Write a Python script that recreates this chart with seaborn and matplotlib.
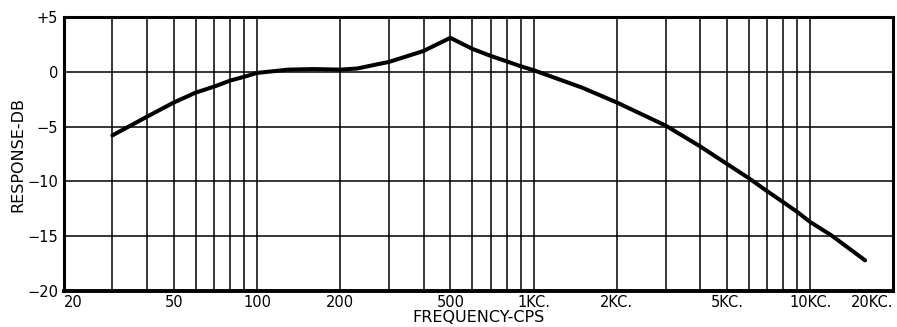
import matplotlib
matplotlib.use("Agg")
import matplotlib.pyplot as plt
import seaborn as sns
import pandas as pd

# response curve (frequency in cps, response in dB)
freq = [30, 40, 50, 60, 70, 80, 90, 100, 130, 160, 200, 230, 280, 300, 400, 500,
        600, 700, 800, 900, 1000, 1500, 2000, 3000, 4000, 5000, 6000, 7000, 8000,
        9000, 10000, 11900, 15800]
response_db = [-5.8, -4.1, -2.8, -1.9, -1.35, -0.8, -0.45, -0.1, 0.2, 0.25, 0.2,
               0.3, 0.75, 0.9, 1.9, 3.1, 2.1, 1.45, 0.95, 0.5, 0.15, -1.45, -2.8,
               -4.9, -6.8, -8.4, -9.7, -10.9, -11.9, -12.8, -13.7, -14.9, -17.2]

x_ticks = [20, 50, 100, 200, 500, 1000, 2000, 5000, 10000, 20000]
x_labels = ["20", "50", "100", "200", "500", "1KC.", "2KC.", "5KC.", "10KC.", "20KC."]
x_grid = [30, 40, 60, 70, 80, 90, 300, 400, 600, 700, 800, 900,
          3000, 4000, 6000, 7000, 8000, 9000]
y_ticks = [5, 0, -5, -10, -15, -20]
y_labels = ["+5", "0", "\u22125", "\u221210", "\u221215", "\u221220"]

df = pd.DataFrame({"freq": freq, "db": response_db})

sns.set_theme(style="white", rc={"text.color": "black", "axes.labelcolor": "black",
                                 "xtick.color": "black", "ytick.color": "black"})
plt.rcParams["font.family"] = ["DejaVu Sans"]

fig = plt.figure(figsize=(8.97, 3.27), dpi=100)
ax = fig.add_axes([0.071, 0.110, 0.925, 0.838])

sns.lineplot(data=df, x="freq", y="db", color="black", linewidth=2.9, ax=ax)

ax.set_xscale("log")
ax.set_xlim(20, 20000)
ax.set_ylim(-20, 5)

ax.set_xticks(x_ticks)
ax.set_xticklabels(x_labels, fontsize=10.5)
ax.set_xticks(x_grid, minor=True)
ax.set_xticklabels([], minor=True)
ax.set_yticks(y_ticks)
ax.set_yticklabels(y_labels, fontsize=10.5)

# end labels sit inside the frame, like the original
xt = ax.get_xticklabels()
xt[0].set_horizontalalignment("left")
xt[-1].set_horizontalalignment("right")

ax.tick_params(which="both", length=0)
ax.tick_params(axis="x", pad=3)
ax.tick_params(axis="y", pad=4)
ax.grid(True, which="both", color="black", linewidth=1.1)

for side in ["top", "bottom", "left", "right"]:
    ax.spines[side].set_visible(True)
    ax.spines[side].set_color("black")
    ax.spines[side].set_linewidth(2.2)
ax.spines["bottom"].set_linewidth(2.8)

ax.set_xlabel("FREQUENCY-CPS", fontsize=11.5, labelpad=0)
ax.set_ylabel("RESPONSE-DB", fontsize=11.5)
ax.yaxis.set_label_coords(-0.046, 0.5)

fig.savefig("out.png", dpi=100, facecolor="white")
